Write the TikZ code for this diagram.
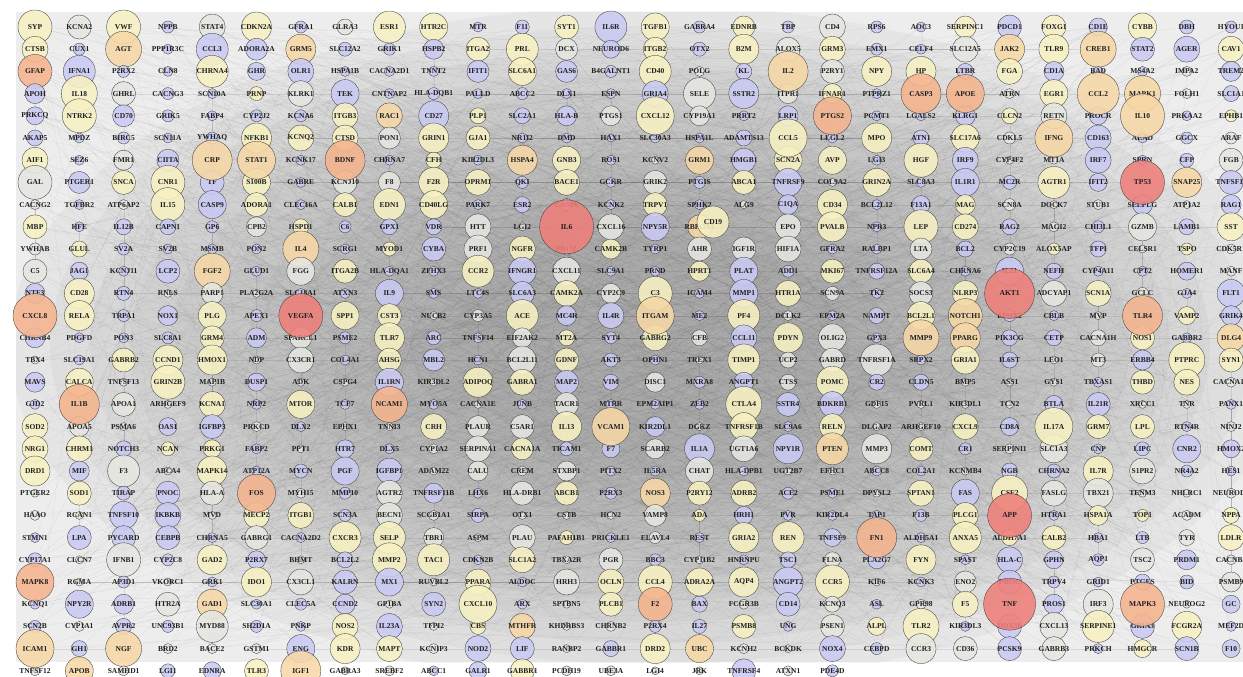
\documentclass[tikz,border=0pt]{standalone}
\usepackage{fontspec}
\setmainfont{Liberation Serif}
\usetikzlibrary{backgrounds}
\definecolor{cY}{HTML}{F7F1C2}
\definecolor{cB}{HTML}{C9CAF3}
\definecolor{cG}{HTML}{E6E6E1}
\definecolor{cT}{HTML}{F6D8A6}
\definecolor{cO}{HTML}{F5B48E}
\definecolor{cR}{HTML}{EF7F7A}
\definecolor{bglite}{HTML}{EDEDED}
\tikzstyle{genetext}=[font=\bfseries\fontsize{7.5}{8}\selectfont, text=black!88, inner sep=0pt]
\tikzstyle{ppiedge}=[draw=gray!60!black, line width=0.15pt, opacity=0.14]
\tikzset{gene/.style={circle, draw=gray!50!black, line width=0.35pt, fill opacity=0.88, minimum size=2*#1pt, inner sep=0pt}}

\begin{document}
\begin{tikzpicture}[x=1pt, y=-1pt]
\useasboundingbox (0,0) rectangle (1243,677);
\foreach \pass in {0,1}{
\foreach \genes [count=\ri from 0] in {
{SYP/17/Y, KCNA2/12/G, VWF/17/Y, NPPB/6/B, STAT4/13/G, CDKN2A/15/Y, GFRA1/6/B, GLRA3/8/G, ESR1/16/Y, HTR2C/14/Y, MTR/5/B, F11/7/B, SYT1/12/Y, IL6R/16/B, TGFB1/14/Y, GABRA4/6/B, EDNRB/11/Y, TBP/6/B, CD4/13/G, RPS6/6/B, AOC3/5/B, SERPINC1/11/Y, PDCD1/12/B, FOXG1/12/Y, CD1E/9/B, CYBB/14/Y, DBH/7/B, HYOU1/6/B},
{CTSB/13/Y, CUX1/6/B, AGT/18/T, PPP1R3C/5/B, CCL3/16/B, ADORA2A/11/B, GRM5/15/T, SLC12A2/7/B, GRIK1/6/B, HSPB2/10/B, ITGA2/12/Y, PRL/16/Y, DCX/11/G, NEUROD6/9/B, ITGB2/12/Y, OTX2/7/B, B2M/15/Y, ALOX5/12/G, GRM3/13/Y, EMX1/6/B, CELF4/5/B, SLC12A5/13/G, JAK2/15/T, TLR9/15/Y, CREB1/18/T, STAT2/12/B, AGER/13/B, CAV1/13/Y},
{GFAP/17/O, IFNA1/16/B, P2RX2/6/B, CLN8/5/B, CHRNA4/16/Y, GHR/9/B, OLR1/13/B, HSPA1B/5/B, CACNA2D1/5/B, TNNT2/5/B, IFIT1/11/B, SLC6A1/14/Y, GAS6/11/B, B4GALNT1/6/B, CD40/16/Y, POLG/5/G, KL/8/B, IL2/20/T, P2RY1/12/G, NPY/15/Y, HP/15/Y, LTBR/8/B, FGA/13/Y, CD1A/10/B, BAD/5/B, MS4A2/5/B, IMPA2/5/G, TREM2/10/B},
{APOH/10/B, IL18/18/Y, GHRL/12/G, CACNG3/6/B, SCN10A/5/B, PRNP/7/Y, KLRK1/13/G, TEK/14/B, CNTNAP2/5/B, HLA-DQB1/6/B, PALLD/5/B, ABCC2/6/B, DLX1/5/B, ESPN/5/B, GRIA4/13/B, SELE/16/G, SSTR2/15/B, ITPR1/10/G, IFNAR1/10/Y, PTPRZ1/5/B, CASP3/20/O, APOE/19/O, ATRN/5/G, EGR1/14/Y, CCL2/21/T, MAPK1/18/T, FOLH1/5/G, SLC1A1/8/B},
{PRKCQ/9/B, NTRK2/17/Y, CD70/11/B, GRIK5/6/B, FABP4/5/B, CYP2J2/6/B, KCNA6/6/B, ITGB3/13/Y, RAC1/13/T, CD27/15/B, PLP1/8/Y, SLC2A1/8/B, HLA-B/10/B, PTGS1/10/G, CXCL12/19/Y, CYP19A1/10/G, PRRT2/5/B, LRP1/10/B, PTGS2/19/O, PCMT1/5/B, LGALS2/5/B, KLRG1/10/B, CLCN2/8/Y, RETN/13/G, PROCR/9/B, IL10/22/T, PRKAA2/5/B, EPHB1/6/Y},
{AKAP5/8/B, MPDZ/5/B, BIRC5/6/B, SCN11A/5/B, YWHAQ/6/B, NFKB1/15/Y, KCNQ2/13/Y, CTSD/13/Y, PON1/11/G, GRIN1/15/Y, GJA1/12/Y, NR1I2/5/B, DMD/5/B, HAX1/4/B, SLC30A3/5/B, HSPA1L/5/B, ADAMTS13/8/B, CCL5/19/Y, LLGL2/5/B, MPO/15/Y, ATN1/8/B, SLC17A6/14/Y, CDKL5/6/G, IFNG/19/T, CD163/13/B, ALAD/5/B, GGCX/6/B, ARAF/6/G},
{AIF1/13/Y, SEZ6/5/B, FMR1/10/G, CIITA/11/B, CRP/20/T, STAT1/19/T, KCNK17/5/B, BDNF/20/O, CHRNA7/5/B, CFH/8/Y, KIR2DL3/5/B, HSPA4/15/T, GNB3/14/Y, ROS1/5/B, KCNV2/4/G, GRM1/14/T, HMGB1/12/B, SCN2A/14/Y, AVP/14/Y, LGI3/5/B, HGF/17/Y, IRF9/13/B, CYP4F2/4/G, MT1A/4/G, IRF7/13/B, SPRN/5/B, CFP/7/B, FGB/12/G},
{GAL/17/G, PTGER1/11/B, SNCA/12/Y, CNR1/17/Y, TF/12/B, S100B/14/Y, GABRE/5/B, KCNJ10/12/G, F8/11/G, F2R/15/Y, OPRM1/13/Y, QKI/6/B, BACE1/13/Y, GCKR/5/B, GRIK2/12/G, PTGIS/6/B, ABCA1/12/Y, TNFRSF9/14/B, COL9A2/4/G, GRIN2A/14/Y, SLC8A3/5/B, IL1R1/14/B, MC2R/7/B, AGTR1/16/Y, IFIT2/9/B, TP53/22/R, SNAP25/15/T, TNFSF11/12/B},
{CACNG2/5/G, TGFBR2/5/B, ATP6AP2/5/G, IL15/17/Y, CASP9/14/B, ADORA1/12/Y, CLEC16A/5/B, CALB1/12/Y, EDN1/16/Y, CD40LG/14/Y, PARK7/5/B, ESR2/8/B, CASP6/6/B, KCNK2/5/B, TRPV1/12/Y, SPHK2/5/B, ALG9/4/G, C1QA/10/B, CD34/15/Y, BCL2L12/5/B, F13A1/9/B, MAG/10/Y, SCN8A/6/G, DOCK7/4/G, STUB1/5/G, SELPLG/10/B, ATP1A2/4/G, RAG1/10/B},
{MBP/12/Y, HFE/5/B, IL12B/8/B, CAPN1/8/B, GP6/6/B, CPB2/10/G, HSPD1/8/Y, C6/6/B, GPX1/8/B, VDR/8/B, HTT/13/G, LGI2/4/G, IL6/27/R, CXCL16/13/G, NPY5R/14/B, RBFOX1/12/T, -/0/Y, EPO/13/G, PVALB/15/Y, NPR3/5/B, LEP/17/Y, CD274/13/Y, RAG2/8/B, MAGI2/5/G, CHI3L1/6/B, GZMB/14/G, LAMB1/8/B, SST/14/Y},
{YWHAB/6/G, GLUL/8/Y, SV2A/6/B, SV2B/5/B, MSMB/5/B, PON2/5/B, IL4/18/T, SCRG1/5/B, MYOD1/7/Y, CYBA/12/B, PRF1/14/G, NGFR/13/Y, PROZ/6/B, CAMK2B/10/Y, TYRP1/5/B, AHR/12/G, IGF1R/12/G, HIF1A/13/G, GFRA2/5/B, RALBP1/5/B, LTA/11/G, BCL2/8/B, CYP2C19/6/G, ALOX5AP/6/Y, TFPI/8/B, CELSR1/4/G, TSPO/6/Y, CDK5R1/5/G},
{C5/12/G, JAG1/9/B, KCNJ11/5/B, LCP2/12/B, FGF2/18/T, GLUD1/5/B, FGG/14/G, ITGA2B/12/Y, HLA-DQA1/5/B, ZFHX3/5/B, CCR2/16/Y, IFNGR1/14/B, CXCL11/14/G, SLC9A1/5/B, PRND/5/B, HPRT1/10/Y, PLAT/14/B, ADD1/6/B, MKI67/12/Y, TNFRSF12A/8/B, SLC6A4/12/Y, CHRNA6/5/B, IL21/14/B, NEFH/8/B, CYP4A11/5/B, CPT2/5/B, HOMER1/9/B, MANF/5/G},
{NTF3/10/B, CD28/15/Y, RTN4/7/B, RNLS/4/G, PARP1/11/G, PLA2G2A/4/G, SLC18A1/5/B, ATXN3/5/B, IL9/14/B, SMS/5/B, LTC4S/5/B, SLC6A3/12/B, CAMK2A/13/Y, CYP2C9/10/G, C3/17/Y, ICAM4/5/B, MMP1/14/B, HTR1A/13/Y, SCN9A/7/G, TK2/5/B, SOCS3/12/G, NLRP3/13/Y, AKT1/25/R, ADCYAP1/13/G, SCN1A/13/Y, GCLC/6/G, GJA4/5/B, FLT1/14/B},
{CXCL8/22/O, RELA/15/Y, TRPA1/6/B, NOX1/10/B, PLG/14/Y, APEX1/6/B, VEGFA/22/R, SPP1/14/Y, CST3/12/Y, NUCB2/4/G, CYP3A5/6/G, ACE/16/Y, MC4R/10/B, IL4R/13/B, ITGAM/19/T, ME2/5/B, PF4/16/Y, DCLK2/5/G, EPM2A/5/B, NAMPT/8/B, BCL2L1/14/Y, NOTCH1/17/T, EPHX2/6/B, CBLB/5/B, MVP/4/G, TLR4/20/O, VAMP2/9/Y, GRIK4/10/B},
{CHRNB4/10/B, PDGFD/5/B, PON3/5/B, SLC8A1/6/B, GRM4/12/Y, ADM/10/B, SPARCL1/11/G, PSME2/6/B, TLR7/15/Y, ARC/7/B, TNFSF14/5/B, EIF2AK2/10/G, MT2A/8/Y, SYT4/6/B, GABRG2/13/Y, CFB/8/G, CCL11/13/B, PDYN/15/Y, OLIG2/14/G, GPX3/5/B, MMP9/18/T, PPARG/15/T, PIK3CG/8/B, CETP/8/B, CACNA1H/8/G, NOS1/12/Y, GABBR2/5/B, DLG4/14/T},
{TBX4/4/G, SLC19A1/5/B, GABRB2/12/Y, CCND1/15/Y, HMOX1/15/Y, NDP/4/G, CX3CR1/13/G, COL4A1/5/B, AHSG/12/Y, MBL2/11/B, HCN1/5/B, BCL2L11/14/G, GDNF/12/Y, AKT3/7/B, OPHN1/5/B, TREX1/4/G, TIMP1/16/Y, UCP2/8/G, GABRD/12/G, TNFRSF1A/16/G, SRPX2/5/B, GRIA1/14/Y, IL6ST/8/B, LEO1/4/G, MT3/7/G, ERBB4/10/B, PTPRC/18/Y, SYN1/12/Y},
{MAVS/10/B, CALCA/14/Y, TNFSF13/4/G, GRIN2B/17/Y, MAP1B/4/G, DUSP1/9/B, ADK/4/G, CSPG4/4/G, IL1RN/14/B, KIR3DL2/4/G, ADIPOQ/15/Y, GABRA1/13/Y, MAP2/12/B, VIM/8/B, DISC1/10/G, MXRA8/6/B, ANGPT1/10/B, CTSS/8/G, POMC/16/Y, CR2/8/B, CLDN5/8/B, BMP5/4/G, ASS1/4/G, GYS1/4/G, TBXAS1/5/B, THBD/12/Y, NES/13/Y, CACNA1B/5/G},
{GJD2/5/B, IL1B/20/O, APOA1/12/G, ARHGEF9/4/G, KCNA1/13/Y, NRP2/5/B, MTOR/14/Y, TCF7/5/B, NCAM1/18/O, MYO5A/5/B, CACNA1E/4/G, JUNB/5/B, TACR1/12/G, MTRR/5/B, EPM2AIP1/5/B, ZEB2/5/B, CTLA4/18/Y, SSTR4/12/B, BDKRB1/13/B, GDF15/4/G, PVRL1/4/G, KIR3DL1/4/G, TCN2/4/G, BTLA/9/B, IL21R/12/B, XRCC1/4/G, TNR/4/G, PANX1/5/B},
{SOD2/13/Y, APOA5/10/G, PSMA6/4/G, OAS1/9/B, IGFBP3/12/B, PRKCD/5/G, DLX2/5/B, EPHX1/4/G, TNNI3/4/G, CRH/13/Y, PLAUR/11/G, C5AR1/12/G, IL13/15/Y, VCAM1/19/T, KIR2DL1/10/B, DGKZ/4/G, TNFRSF1B/14/Y, SLC9A6/5/B, RELN/13/Y, DLGAP2/4/G, ARHGEF10/4/G, CXCL9/13/Y, CD8A/9/B, IL17A/19/Y, GRM7/12/Y, LPL/12/Y, RTN4R/5/B, NINJ2/5/G},
{NRG1/13/Y, CHRM1/13/Y, NOTCH3/8/B, NCAN/7/Y, PRKG1/9/Y, FABP2/5/B, PPT1/4/G, HTR7/9/B, DLX5/5/B, CYP1A2/5/G, SERPINA1/13/G, CACNA1A/11/Y, TICAM1/7/B, F7/9/B, SCARB2/10/G, IL1A/15/B, UGT1A6/13/G, NPY1R/15/B, PTEN/16/T, MMP3/15/G, COMT/12/Y, CR1/6/B, SERPINI1/5/G, SLC1A3/14/G, CNP/5/B, LIPC/7/B, CNR2/14/B, HMOX2/9/B},
{DRD1/15/Y, MIF/10/B, F3/16/G, ABCA4/4/G, MAPK14/15/Y, ATP12A/5/B, MYCN/7/B, PGF/14/B, IGFBP1/13/B, ADAM22/4/G, CALU/10/G, CREM/5/G, STXBP1/10/G, PITX2/5/B, IL5RA/5/B, CHAT/14/G, HLA-DPB1/5/B, UGT2B7/4/G, EFHC1/4/G, ABCC8/5/B, COL2A1/5/B, KCNMB4/4/G, NGB/8/B, CHRNA2/7/B, IL7R/15/Y, S1PR2/13/G, NR4A2/6/B, HES1/5/B},
{PTGER2/4/G, SOD1/12/Y, TIRAP/7/B, PNOC/12/B, HLA-A/12/G, FOS/19/O, MYH15/5/G, MMP10/6/B, AGTR2/13/G, TNFRSF11B/10/B, LHX6/5/B, HLA-DRB1/12/G, ABCB1/12/Y, P2RX3/6/B, NOS3/15/T, P2RY12/12/Y, ADRB2/13/Y, ACE2/6/B, PSME1/5/B, DPYSL2/4/G, SPTAN1/13/Y, FAS/14/B, CSF2/18/Y, FASLG/13/G, TBX21/15/G, TENM3/4/G, NHLRC1/4/G, NEUROD1/5/G},
{HAAO/5/G, RCAN1/4/G, TNFSF10/14/B, IKBKB/13/B, MVD/4/G, MECP2/13/Y, ITGB1/13/Y, SCN3A/6/B, BECN1/13/G, SCGB1A1/5/G, SIRPA/7/B, OTX1/4/G, CSTB/4/G, HCN2/4/G, VAMP8/11/G, ADA/6/Y, HRH1/9/B, PVR/5/B, KIR2DL4/5/B, TAP1/5/B, F13B/6/B, PLCG1/13/Y, APP/22/R, HTRA1/5/B, HSPA1A/10/Y, TOP1/6/Y, ACADM/5/G, NPPA/8/Y},
{STMN1/5/B, LPA/12/B, PYCARD/12/B, CEBPB/12/B, CHRNA5/5/B, GABRG1/12/G, CACNA2D2/5/B, CXCR3/16/Y, SELP/16/Y, TBR1/10/G, ASPM/4/G, PLAU/13/G, PAFAH1B1/7/Y, PRICKLE1/5/B, ELAVL4/6/G, REST/5/B, GRIA2/15/Y, REN/16/Y, TNFSF9/9/B, FN1/20/O, ALDH5A1/5/B, ANXA5/16/Y, ALDH7A1/8/Y, CALB2/12/Y, HBA1/5/B, LTB/6/B, TYR/8/G, LDLR/13/Y},
{CYP17A1/7/B, CLCN7/4/G, IFNB1/17/G, CYP2C8/6/B, GAD2/15/Y, P2RX7/9/B, BHMT/4/G, BCL2L2/8/B, MMP2/17/Y, TAC1/16/Y, CDKN2B/5/B, SLC1A2/13/Y, TBXA2R/4/G, PGR/12/G, BBC3/6/B, CYP11B2/4/G, HNRNPU/5/B, TSC1/8/B, FLNA/8/G, PLA2G7/9/B, FYN/15/Y, SPAST/5/B, HLA-C/13/B, GPHN/9/B, AQP1/6/B, TSC2/12/G, PRDM1/10/B, CACNB2/5/G},
{MAPK8/19/O, RGMA/4/G, AP3D1/6/B, VKORC1/4/G, GRK1/5/B, IDO1/15/Y, CX3CL1/13/G, KALRN/12/B, MX1/14/B, RUVBL2/4/G, PPARA/13/Y, ALDOC/5/B, HRH3/13/G, OCLN/13/Y, CCL4/17/Y, ADRA2A/14/Y, AQP4/15/Y, ANGPT2/15/B, CCR5/17/Y, KIF6/4/G, KCNK3/5/B, ENO2/11/G, PROC/12/B, TRPV4/6/B, GRID1/5/B, PTGES/8/B, BID/7/B, PSMB9/10/G},
{KCNQ1/5/B, NPY2R/14/B, ADRB1/10/B, HTR2A/12/G, GAD1/15/T, SLC30A1/5/B, CLEC5A/6/B, CCND2/10/B, GP1BA/4/G, SYN2/12/B, CXCL10/19/Y, ARX/5/B, SPTBN5/4/G, PLCB1/12/Y, F2/17/O, BAX/8/B, FCGR3B/5/G, CD14/12/B, KCNQ3/8/G, ASL/5/B, GPR98/5/G, F5/13/Y, TNF/26/R, PROS1/10/B, IRF3/15/G, MAPK3/22/O, NEUROG2/4/G, GC/9/B},
{SCN2B/6/B, CYP1A1/5/G, AVPR2/8/B, UNC93B1/6/B, MYD88/16/G, SH2D1A/6/B, PNKP/5/B, NOS2/13/Y, IL23A/13/B, TFPI2/4/G, CBS/8/Y, MTHFR/13/T, KHDRBS3/4/G, CHRNB2/5/G, P2RX4/6/B, IL27/7/B, PSMB8/12/Y, UNG/5/B, PSEN1/12/G, ALPL/9/Y, TLR2/18/Y, KIR3DL3/5/B, DDX58/12/B, CXCL13/14/G, SERPINE1/16/Y, GRIA3/12/B, FCGR2A/15/Y, MEF2D/5/B},
{ICAM1/19/T, GH1/8/B, NGF/18/T, BRD2/5/G, BACE2/5/G, GSTM1/5/G, ENG/14/B, KDR/15/Y, MAPT/13/Y, KCNIP3/5/G, NOD2/13/B, LIF/12/B, RANBP2/4/G, GABBR1/8/B, DRD2/15/Y, UBC/14/T, KCNH2/5/G, BCKDK/4/G, NOX4/13/B, CEBPD/6/B, CCR3/15/G, CD36/12/G, PCSK9/12/B, GABRB3/12/G, PRKCH/5/B, HMGCR/9/Y, SCN1B/12/B, F10/9/B},
{TNFSF12/5/G, APOB/14/T, SAMHD1/5/G, LGI1/7/B, EDNRA/9/B, TLR3/12/Y, IGF1/20/T, GABRA3/4/G, SREBF2/5/G, ABCC1/5/B, GALR1/9/B, GABBR1/12/Y, PCDH19/5/G, UBE3A/5/G, LGI4/4/G, JRK/4/G, TNFRSF4/12/B, ATXN1/5/G, PDE4D/6/B}}{
  \foreach \gname/\grad/\gfill [count=\ci from 0] in \genes {
    \ifnum\grad>0
      \pgfmathtruncatemacro\isbig{\grad>=19 ? 1 : 0}
      \ifnum\isbig=\pass
        \node[gene=\grad, fill=c\gfill, label={[genetext]center:\gname}] (g-\ri-\ci) at ({35+44.3*\ci},{27+22.2*\ri}) {};
      \fi
    \fi
  }
}}
\node[gene=16, fill=cY, label={[genetext]center:CD19}] (g-9-16) at (713,222) {};
\begin{scope}[on background layer]
\fill[bglite] (16,12) rectangle (1243,662);
\begin{scope}
\clip (16,12) rectangle (1243,662);
\foreach \i in {0,...,11}
  \fill[gray, opacity=0.065] (650,345) ellipse ({640-40*\i} and {340-21*\i});
\end{scope}
\pgfmathsetseed{31}
\foreach \k in {1,...,1500}{
  \pgfmathrandominteger{\ra}{0}{28}
  \pgfmathrandominteger{\ca}{0}{27}
  \pgfmathrandominteger{\rb}{0}{28}
  \pgfmathrandominteger{\cb}{0}{27}
  \draw[ppiedge] (g-\ra-\ca) -- (g-\rb-\cb);
}
\end{scope}
\end{tikzpicture}
\end{document}
